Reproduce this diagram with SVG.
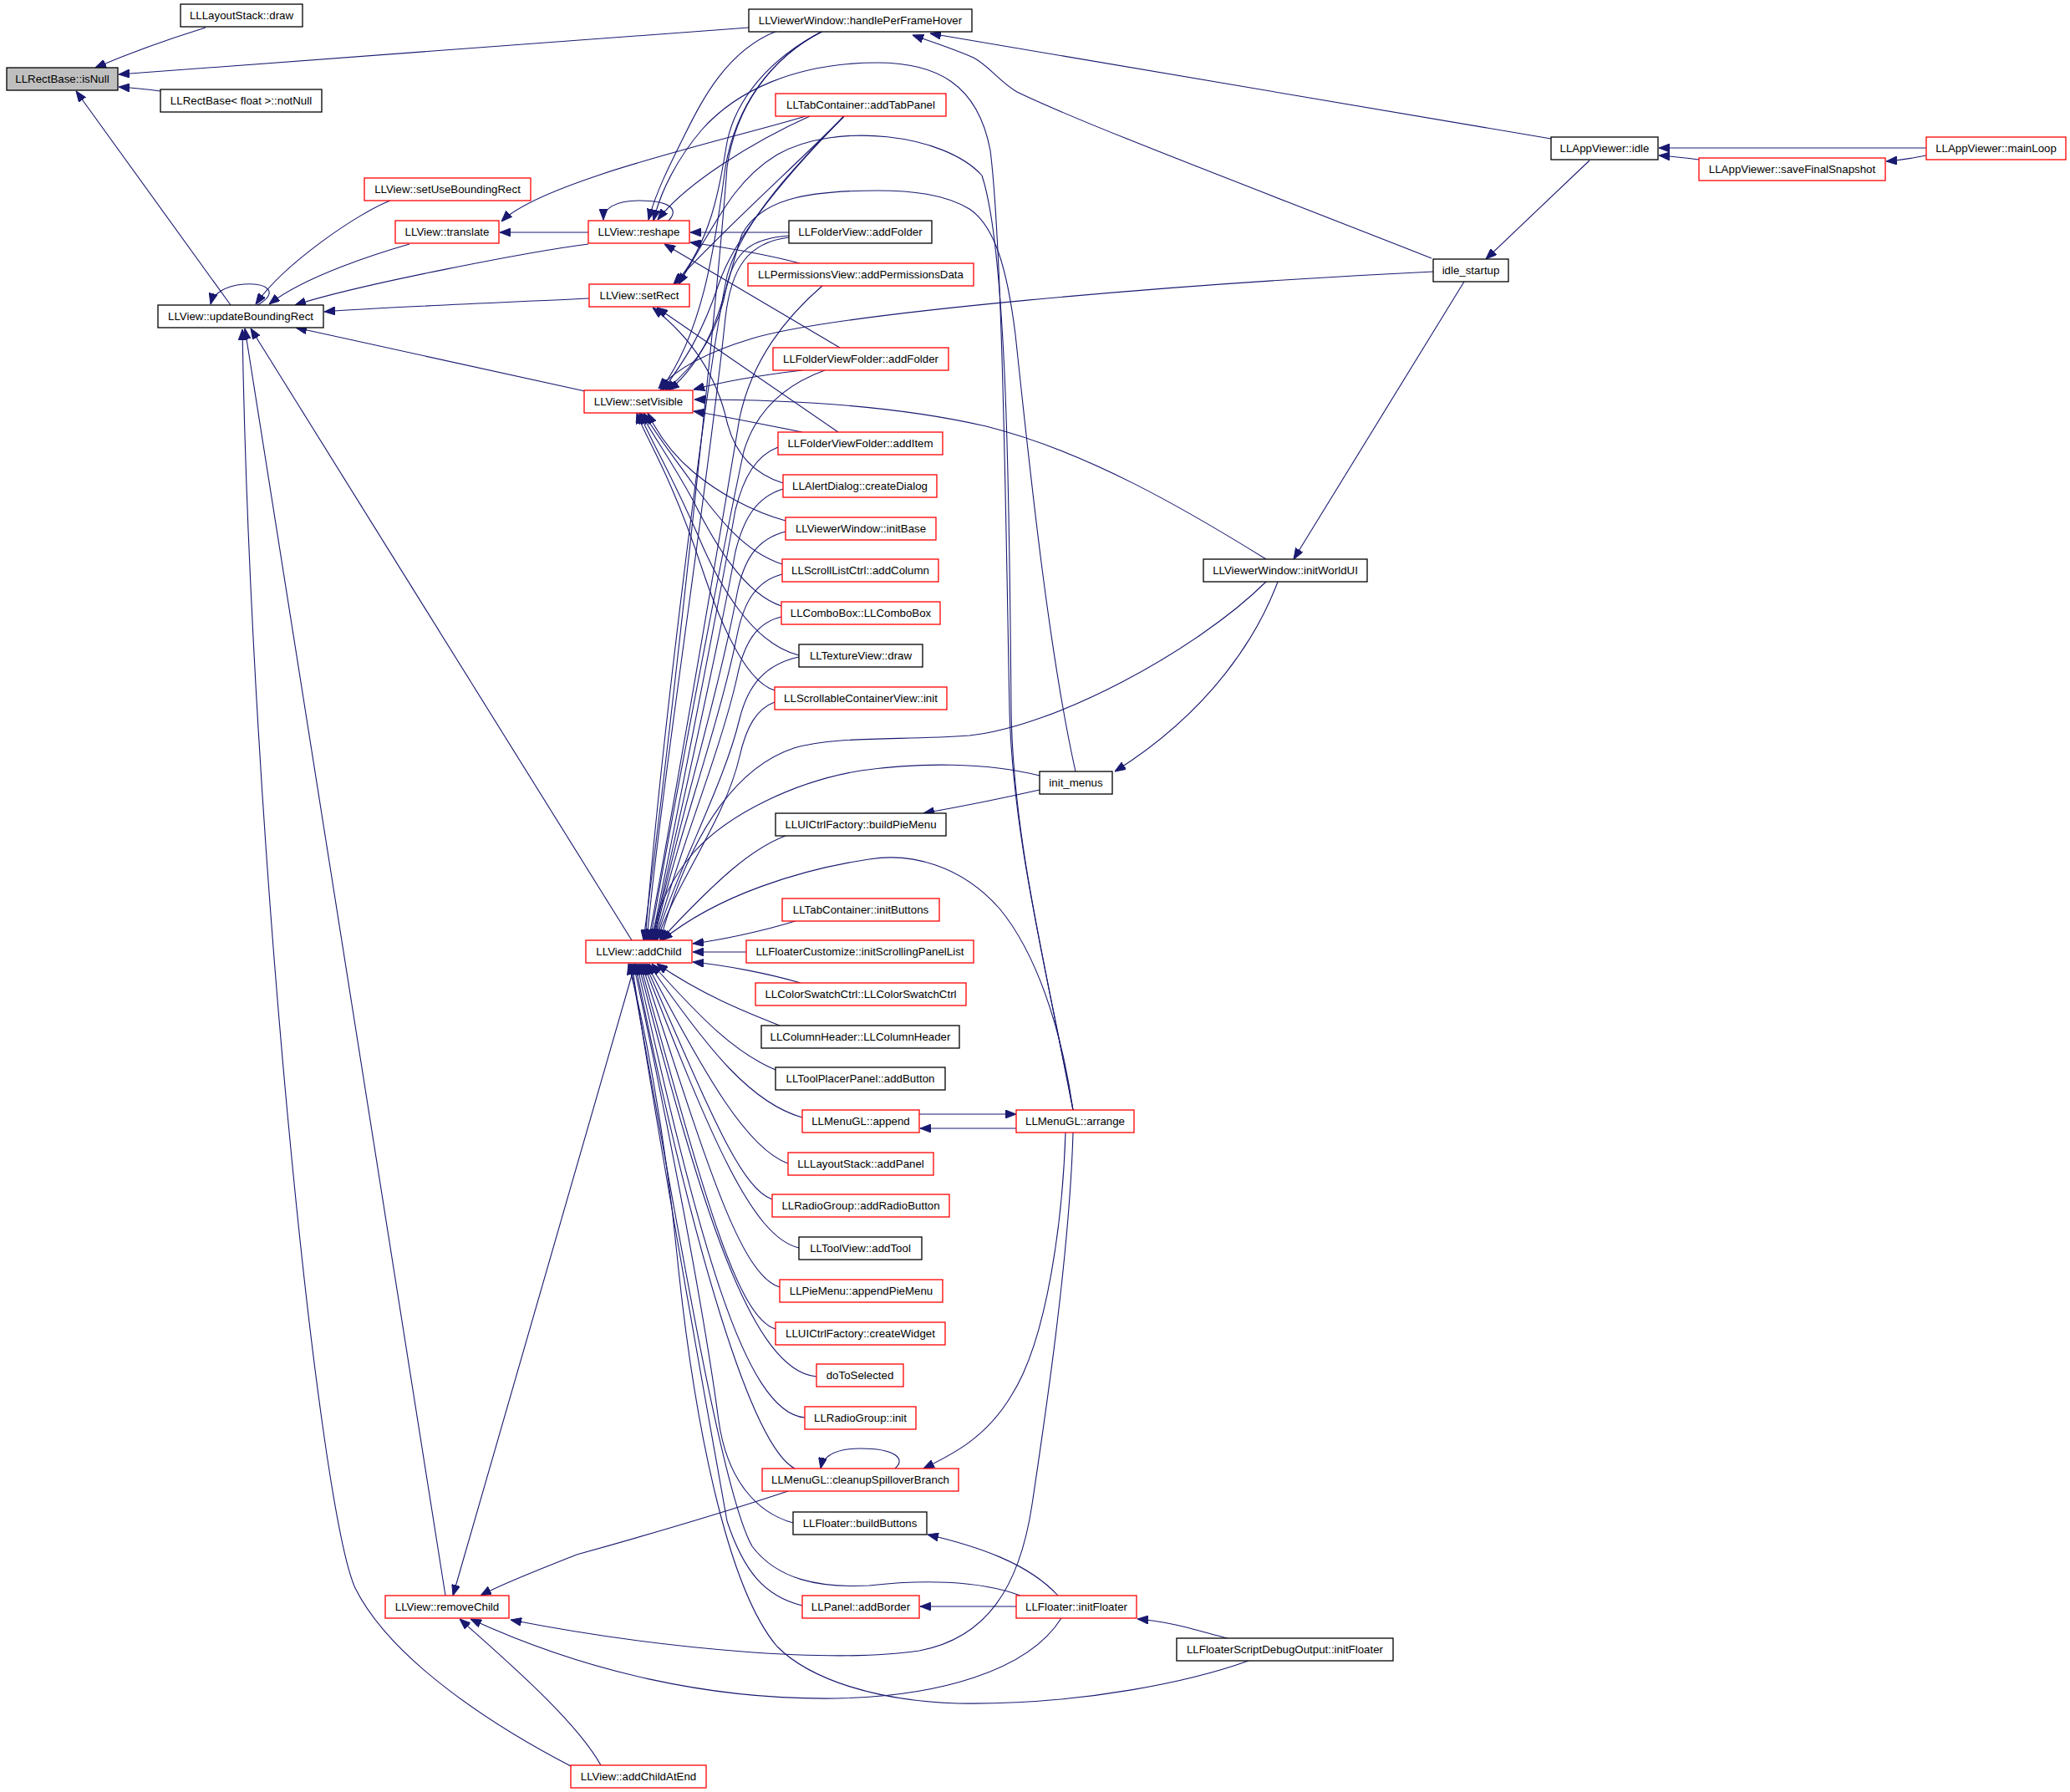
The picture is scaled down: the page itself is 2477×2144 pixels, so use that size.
<svg xmlns="http://www.w3.org/2000/svg" width="2477" height="2144" viewBox="0 0 2477 2144">
<style>
.node rect{fill:#ffffff;stroke:#000000;stroke-width:1.3}
.node.red rect{stroke:#ff0000}
.node.cur rect{fill:#bfbfbf}
.node text{font-family:"Liberation Sans",Arial,sans-serif;font-size:13.3px;fill:#000000;text-anchor:middle}
#edges path{fill:none;stroke:#191970;stroke-width:1.1;marker-end:url(#arr)}
</style>
<defs>
<marker id="arr" viewBox="0 0 13 10" refX="13" refY="5" markerWidth="13" markerHeight="10" markerUnits="userSpaceOnUse" orient="auto">
<path d="M0,0 L13,5 L0,10 z" fill="#191970" stroke="#191970" stroke-width="1"/>
</marker>
</defs>
<rect x="0" y="0" width="2477" height="2144" fill="#ffffff"/>
<g id="edges">
<path d="M246,33 Q175,55 114,81"/>
<path d="M896,33 L142,89"/>
<path d="M192,109 Q170,106 142,104"/>
<path d="M276,365 L91,109"/>
<path d="M308,365 C335,350 320,338 292,340 C268,342 255,352 252,364"/>
<path d="M467,240 C430,254 340,315 306,364"/>
<path d="M490,292 C455,302 365,330 322,364"/>
<path d="M704,292 C640,300 430,340 353,365"/>
<path d="M705,357 C600,362 450,368 388,373"/>
<path d="M700,468 L354,392"/>
<path d="M756,1125 L300,393"/>
<path d="M533,1909 L293,393"/>
<path d="M683,2113 C600,2070 470,1990 425,1900 C380,1800 300,1000 290,394"/>
<path d="M704,278 L598,278"/>
<path d="M964,139 C880,165 650,215 600,265"/>
<path d="M800,264 C812,252 805,240 765,240 C735,240 722,250 722,263"/>
<path d="M930,37 C870,60 840,120 820,160 C800,200 785,230 776,263"/>
<path d="M969,139 C900,170 820,220 787,263"/>
<path d="M944,278 L826,278"/>
<path d="M957,315 C920,305 860,295 826,290"/>
<path d="M1005,416 L795,292"/>
<path d="M1284,1328 C1250,1150 1212,1000 1208,850 C1204,650 1200,300 1185,180 C1170,100 1120,75 1050,75 C950,75 880,110 840,155 C810,190 790,230 782,264"/>
<path d="M1284,1328 C1250,1150 1212,1000 1210,850 C1208,600 1205,300 1175,210 C1130,160 1000,145 930,185 C880,215 860,260 812,340"/>
<path d="M1287,923 C1255,780 1232,560 1215,400 C1205,320 1190,270 1160,250 C1130,232 1090,228 1050,228 C960,228 910,240 888,280 C870,330 860,420 800,467"/>
<path d="M1715,325 C1400,340 1000,375 900,405 C850,420 810,440 788,465"/>
<path d="M1515,669 C1420,610 1300,540 1180,510 C1050,480 900,478 831,478"/>
<path d="M960,443 C900,450 860,458 830,466"/>
<path d="M960,517 C900,505 860,497 830,492"/>
<path d="M940,623 C900,612 860,590 830,565 C800,540 785,515 775,494"/>
<path d="M936,675 C890,660 860,620 830,580 C805,545 785,520 770,494"/>
<path d="M935,725 C890,710 855,650 830,600 C800,545 780,520 767,494"/>
<path d="M956,784 C900,770 860,700 835,640 C800,560 775,520 765,494"/>
<path d="M927,826 C890,815 860,740 840,680 C800,560 770,520 762,494"/>
<path d="M1003,517 L786,368"/>
<path d="M937,578 C905,568 880,545 870,505 C860,460 835,410 781,368"/>
<path d="M1010,139 C950,200 870,270 806,340"/>
<path d="M985,37 C920,70 880,120 870,170 C860,230 850,290 808,340"/>
<path d="M985,37 C920,70 880,130 868,200 C855,300 840,400 790,467"/>
<path d="M1010,139 C950,200 880,280 860,340 C840,400 820,430 793,467"/>
<path d="M944,282 C900,285 880,300 870,340 C860,400 830,440 796,467"/>
<path d="M985,37 C920,70 880,130 870,200 C855,400 800,900 770,1125"/>
<path d="M1010,139 C960,190 890,260 870,330 C845,450 790,900 772,1125"/>
<path d="M944,284 C895,290 875,320 868,380 C850,560 790,950 774,1125"/>
<path d="M985,341 C940,380 900,430 885,500 C860,650 800,1000 776,1125"/>
<path d="M987,443 C940,460 905,490 890,540 C860,680 800,1000 778,1125"/>
<path d="M931,535 C905,545 890,570 880,610 C855,750 805,1000 780,1125"/>
<path d="M937,585 C905,595 890,620 880,660 C855,800 805,1010 781,1125"/>
<path d="M940,636 C905,645 890,670 882,710 C860,830 805,1010 782,1125"/>
<path d="M936,687 C905,695 890,720 882,760 C860,870 805,1020 783,1125"/>
<path d="M935,738 C905,745 890,770 882,810 C862,900 808,1030 784,1125"/>
<path d="M956,786 C915,795 895,820 885,860 C866,940 810,1040 785,1125"/>
<path d="M927,840 C905,848 893,870 885,905 C868,980 812,1050 786,1125"/>
<path d="M1515,696 C1430,780 1260,870 1160,880 C1080,886 1000,880 950,895 C890,915 830,980 790,1125"/>
<path d="M1244,928 C1180,912 1100,912 1030,922 C950,935 870,975 830,1020 C800,1055 785,1090 780,1125"/>
<path d="M940,1000 C900,1015 860,1050 790,1125"/>
<path d="M1284,1328 C1270,1230 1240,1140 1196,1087 C1150,1035 1090,1020 1040,1028 C960,1040 860,1070 792,1125"/>
<path d="M955,1101 C910,1115 860,1125 829,1129"/>
<path d="M893,1139 L829,1139"/>
<path d="M958,1176 C920,1165 870,1155 829,1151"/>
<path d="M933,1227 C890,1210 840,1190 786,1153"/>
<path d="M928,1280 C880,1260 840,1220 780,1153"/>
<path d="M960,1337 C900,1320 850,1260 776,1153"/>
<path d="M943,1392 C895,1375 845,1290 774,1153"/>
<path d="M924,1435 C885,1420 850,1330 772,1153"/>
<path d="M956,1493 C900,1480 850,1360 770,1153"/>
<path d="M933,1540 C885,1525 845,1390 768,1153"/>
<path d="M928,1590 C880,1575 840,1420 766,1153"/>
<path d="M977,1647 C900,1640 840,1450 764,1153"/>
<path d="M963,1696 C890,1690 835,1480 762,1153"/>
<path d="M951,1757 C900,1730 830,1500 760,1153"/>
<path d="M949,1822 C905,1810 870,1770 860,1700 C840,1550 790,1300 758,1153"/>
<path d="M960,1921 C915,1910 890,1880 870,1820 C840,1650 785,1350 756,1153"/>
<path d="M1221,1909 C1170,1890 1100,1890 1040,1897 C980,1900 930,1890 900,1850 C860,1780 800,1400 754,1153"/>
<path d="M1494,1987 C1430,2010 1300,2040 1146,2038 C1050,2035 970,2010 930,1970 C870,1900 830,1700 810,1500 C795,1350 770,1220 752,1153"/>
<path d="M760,1153 L542,1909"/>
<path d="M943,1784 C880,1805 780,1835 690,1860 C640,1880 600,1895 575,1909"/>
<path d="M1284,1355 C1280,1500 1250,1700 1235,1800 C1220,1900 1180,1960 1100,1975 C1000,1990 800,1975 611,1938"/>
<path d="M1270,1936 C1230,2000 1120,2030 1000,2032 C850,2034 700,2000 563,1937"/>
<path d="M719,2112 C690,2060 610,1990 550,1937"/>
<path d="M1071,1757 C1085,1745 1070,1733 1030,1733 C1000,1733 985,1742 982,1757"/>
<path d="M1275,1355 C1272,1450 1255,1600 1210,1670 C1180,1720 1140,1740 1105,1757"/>
<path d="M1266,1909 C1230,1870 1170,1850 1110,1836"/>
<path d="M1216,1922 L1101,1922"/>
<path d="M1469,1960 C1430,1950 1400,1940 1361,1937"/>
<path d="M1100,1333 L1216,1333"/>
<path d="M1216,1350 L1101,1350"/>
<path d="M1244,945 C1200,955 1150,965 1105,973"/>
<path d="M1529,696 C1505,760 1450,850 1334,923"/>
<path d="M1752,337 L1548,669"/>
<path d="M1902,192 L1778,310"/>
<path d="M1856,166 L1113,40"/>
<path d="M1713,309 C1500,225 1300,150 1217,110 C1195,97 1185,80 1165,69 C1140,58 1115,50 1092,42"/>
<path d="M2305,177 L1985,177"/>
<path d="M2033,191 C2010,188 2000,187 1985,186"/>
<path d="M2305,186 C2290,189 2270,192 2257,193"/>
</g>
<g id="n_isNull" class="node cur"><rect x="8" y="81" width="133" height="27"/><text x="74.5" y="99">LLRectBase::isNull</text></g>
<g id="n_lsdraw" class="node"><rect x="216" y="5" width="146" height="27"/><text x="289" y="23">LLLayoutStack::draw</text></g>
<g id="n_notNull" class="node"><rect x="192" y="107" width="193" height="27"/><text x="288.5" y="125">LLRectBase&lt; float &gt;::notNull</text></g>
<g id="n_hpfh" class="node"><rect x="896" y="11" width="267" height="27"/><text x="1029.5" y="29">LLViewerWindow::handlePerFrameHover</text></g>
<g id="n_addTabPanel" class="node red"><rect x="928" y="112" width="204" height="27"/><text x="1030" y="130">LLTabContainer::addTabPanel</text></g>
<g id="n_setUseBR" class="node red"><rect x="436" y="213" width="199" height="27"/><text x="535.5" y="231">LLView::setUseBoundingRect</text></g>
<g id="n_translate" class="node red"><rect x="473" y="264" width="124" height="27"/><text x="535" y="282">LLView::translate</text></g>
<g id="n_reshape" class="node red"><rect x="704" y="264" width="121" height="27"/><text x="764.5" y="282">LLView::reshape</text></g>
<g id="n_fvAddFolder" class="node"><rect x="944" y="264" width="171" height="27"/><text x="1029.5" y="282">LLFolderView::addFolder</text></g>
<g id="n_permData" class="node red"><rect x="895" y="315" width="270" height="27"/><text x="1030" y="333">LLPermissionsView::addPermissionsData</text></g>
<g id="n_setRect" class="node red"><rect x="705" y="340" width="120" height="27"/><text x="765" y="358">LLView::setRect</text></g>
<g id="n_uBR" class="node"><rect x="189" y="365" width="198" height="27"/><text x="288" y="383">LLView::updateBoundingRect</text></g>
<g id="n_fvfAddFolder" class="node red"><rect x="925" y="416" width="210" height="27"/><text x="1030" y="434">LLFolderViewFolder::addFolder</text></g>
<g id="n_setVisible" class="node red"><rect x="699" y="467" width="130" height="27"/><text x="764" y="485">LLView::setVisible</text></g>
<g id="n_addItem" class="node red"><rect x="931" y="517" width="197" height="27"/><text x="1029.5" y="535">LLFolderViewFolder::addItem</text></g>
<g id="n_createDialog" class="node red"><rect x="937" y="568" width="184" height="27"/><text x="1029" y="586">LLAlertDialog::createDialog</text></g>
<g id="n_initBase" class="node red"><rect x="940" y="619" width="180" height="27"/><text x="1030" y="637">LLViewerWindow::initBase</text></g>
<g id="n_addColumn" class="node red"><rect x="936" y="669" width="187" height="27"/><text x="1029.5" y="687">LLScrollListCtrl::addColumn</text></g>
<g id="n_comboBox" class="node red"><rect x="935" y="720" width="190" height="27"/><text x="1030" y="738">LLComboBox::LLComboBox</text></g>
<g id="n_textureDraw" class="node"><rect x="956" y="771" width="148" height="27"/><text x="1030" y="789">LLTextureView::draw</text></g>
<g id="n_scrollInit" class="node red"><rect x="927" y="822" width="206" height="27"/><text x="1030" y="840">LLScrollableContainerView::init</text></g>
<g id="n_initMenus" class="node"><rect x="1244" y="923" width="87" height="27"/><text x="1287.5" y="941">init_menus</text></g>
<g id="n_buildPie" class="node"><rect x="928" y="973" width="204" height="27"/><text x="1030" y="991">LLUICtrlFactory::buildPieMenu</text></g>
<g id="n_initButtons" class="node red"><rect x="936" y="1075" width="188" height="27"/><text x="1030" y="1093">LLTabContainer::initButtons</text></g>
<g id="n_addChild" class="node red"><rect x="701" y="1125" width="127" height="27"/><text x="764.5" y="1143">LLView::addChild</text></g>
<g id="n_initScroll" class="node red"><rect x="893" y="1125" width="272" height="27"/><text x="1029" y="1143">LLFloaterCustomize::initScrollingPanelList</text></g>
<g id="n_colorSwatch" class="node red"><rect x="904" y="1176" width="252" height="27"/><text x="1030" y="1194">LLColorSwatchCtrl::LLColorSwatchCtrl</text></g>
<g id="n_columnHeader" class="node"><rect x="911" y="1227" width="237" height="27"/><text x="1029.5" y="1245">LLColumnHeader::LLColumnHeader</text></g>
<g id="n_toolPlacer" class="node"><rect x="928" y="1277" width="203" height="27"/><text x="1029.5" y="1295">LLToolPlacerPanel::addButton</text></g>
<g id="n_append" class="node red"><rect x="960" y="1328" width="140" height="27"/><text x="1030" y="1346">LLMenuGL::append</text></g>
<g id="n_arrange" class="node red"><rect x="1216" y="1328" width="141" height="27"/><text x="1286.5" y="1346">LLMenuGL::arrange</text></g>
<g id="n_addPanel" class="node red"><rect x="943" y="1379" width="174" height="27"/><text x="1030" y="1397">LLLayoutStack::addPanel</text></g>
<g id="n_addRadio" class="node red"><rect x="924" y="1429" width="212" height="27"/><text x="1030" y="1447">LLRadioGroup::addRadioButton</text></g>
<g id="n_addTool" class="node"><rect x="956" y="1480" width="147" height="27"/><text x="1029.5" y="1498">LLToolView::addTool</text></g>
<g id="n_appendPie" class="node red"><rect x="933" y="1531" width="195" height="27"/><text x="1030.5" y="1549">LLPieMenu::appendPieMenu</text></g>
<g id="n_createWidget" class="node red"><rect x="928" y="1582" width="203" height="27"/><text x="1029.5" y="1600">LLUICtrlFactory::createWidget</text></g>
<g id="n_doToSelected" class="node red"><rect x="977" y="1632" width="104" height="27"/><text x="1029" y="1650">doToSelected</text></g>
<g id="n_rgInit" class="node red"><rect x="963" y="1683" width="133" height="27"/><text x="1029.5" y="1701">LLRadioGroup::init</text></g>
<g id="n_cleanup" class="node red"><rect x="912" y="1757" width="235" height="27"/><text x="1029.5" y="1775">LLMenuGL::cleanupSpilloverBranch</text></g>
<g id="n_buildButtons" class="node"><rect x="949" y="1809" width="160" height="27"/><text x="1029" y="1827">LLFloater::buildButtons</text></g>
<g id="n_removeChild" class="node red"><rect x="461" y="1909" width="148" height="27"/><text x="535" y="1927">LLView::removeChild</text></g>
<g id="n_addBorder" class="node red"><rect x="960" y="1909" width="140" height="27"/><text x="1030" y="1927">LLPanel::addBorder</text></g>
<g id="n_initFloater" class="node red"><rect x="1216" y="1909" width="144" height="27"/><text x="1288" y="1927">LLFloater::initFloater</text></g>
<g id="n_sdoInit" class="node"><rect x="1408" y="1960" width="259" height="27"/><text x="1537.5" y="1978">LLFloaterScriptDebugOutput::initFloater</text></g>
<g id="n_addChildAtEnd" class="node red"><rect x="683" y="2112" width="162" height="27"/><text x="764" y="2130">LLView::addChildAtEnd</text></g>
<g id="n_idle" class="node"><rect x="1856" y="164" width="128" height="27"/><text x="1920" y="182">LLAppViewer::idle</text></g>
<g id="n_saveSnap" class="node red"><rect x="2033" y="189" width="223" height="27"/><text x="2144.5" y="207">LLAppViewer::saveFinalSnapshot</text></g>
<g id="n_mainLoop" class="node red"><rect x="2305" y="164" width="167" height="27"/><text x="2388.5" y="182">LLAppViewer::mainLoop</text></g>
<g id="n_idleStartup" class="node"><rect x="1715" y="310" width="90" height="27"/><text x="1760" y="328">idle_startup</text></g>
<g id="n_initWorldUI" class="node"><rect x="1440" y="669" width="196" height="27"/><text x="1538" y="687">LLViewerWindow::initWorldUI</text></g>
</svg>
